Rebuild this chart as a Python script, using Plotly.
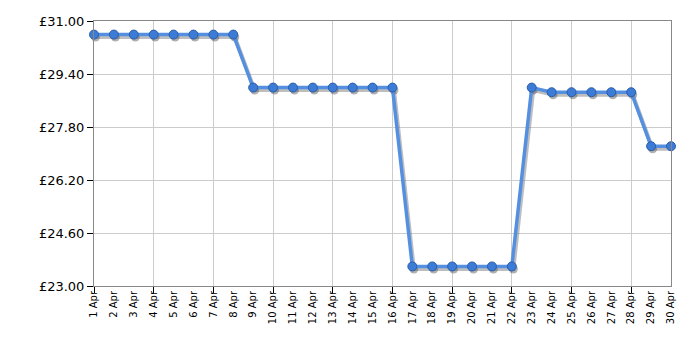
import plotly.graph_objects as go

days = list(range(1, 31))
labels = [f"{d} Apr" for d in days]
prices = [30.59]*8 + [28.99]*8 + [23.59]*6 + [28.99] + [28.85]*5 + [27.22]*2
ytick_vals = [23.0, 24.6, 26.2, 27.8, 29.4, 31.0]
ytick_text = [f"£{v:.2f}" for v in ytick_vals]
grid_days = [1, 4, 7, 10, 13, 16, 19, 22, 25, 28]

L, R, T, B = 94, 29, 21, 64
W, H = 700, 350
pw, ph = W - L - R, H - T - B
x0, x1 = 1, 30
y0, y1 = 23.0, 31.0
# shadow offset in pixels -> shift ranges of the primary axis relative to the overlay
dx_px, dy_px = 1.5, 2.5
dxu = dx_px * (x1 - x0) / pw
dyu = dy_px * (y1 - y0) / ph

fig = go.Figure()
# shadow on primary (drawn below)
fig.add_trace(go.Scatter(
    x=days, y=prices, mode="lines+markers",
    line=dict(color="rgba(110,110,110,0.45)", width=4),
    marker=dict(size=9, color="rgba(80,80,80,0.45)"),
    hoverinfo="skip", showlegend=False, cliponaxis=False))
# main line on overlay axes (drawn on top)
fig.add_trace(go.Scatter(
    x=days, y=prices, mode="lines+markers", xaxis="x2", yaxis="y2",
    line=dict(color="#5590e0", width=3.5),
    marker=dict(size=9, color="#3c7bd6", line=dict(color="#2a5da8", width=1)),
    showlegend=False, cliponaxis=False))

fig.update_layout(
    width=W, height=H,
    margin=dict(l=L, r=R, t=T, b=B),
    plot_bgcolor="white", paper_bgcolor="white",
    font=dict(family="DejaVu Sans, Verdana", color="black"),
    xaxis=dict(range=[x0 - dxu, x1 - dxu], visible=False),
    yaxis=dict(range=[y0 + dyu, y1 + dyu], visible=False),
    xaxis2=dict(range=[x0, x1], overlaying="x", tickmode="array", tickvals=days, ticktext=labels,
               tickangle=-90, tickfont=dict(size=10), ticks="", showgrid=False,
               showline=True, linecolor="#888", mirror=True, zeroline=False,
               minor=dict(tickvals=grid_days, ticks="outside", ticklen=6,
                          tickcolor="black", showgrid=True, gridcolor="#cccccc")),
    yaxis2=dict(range=[y0, y1], overlaying="y", tickmode="array", tickvals=ytick_vals, ticktext=ytick_text,
               tickfont=dict(size=13), ticks="outside", ticklen=6, tickcolor="black",
               showgrid=True, gridcolor="#cccccc", showline=True, linecolor="#888",
               mirror=True, zeroline=False),
)
fig.write_html("out.html")
